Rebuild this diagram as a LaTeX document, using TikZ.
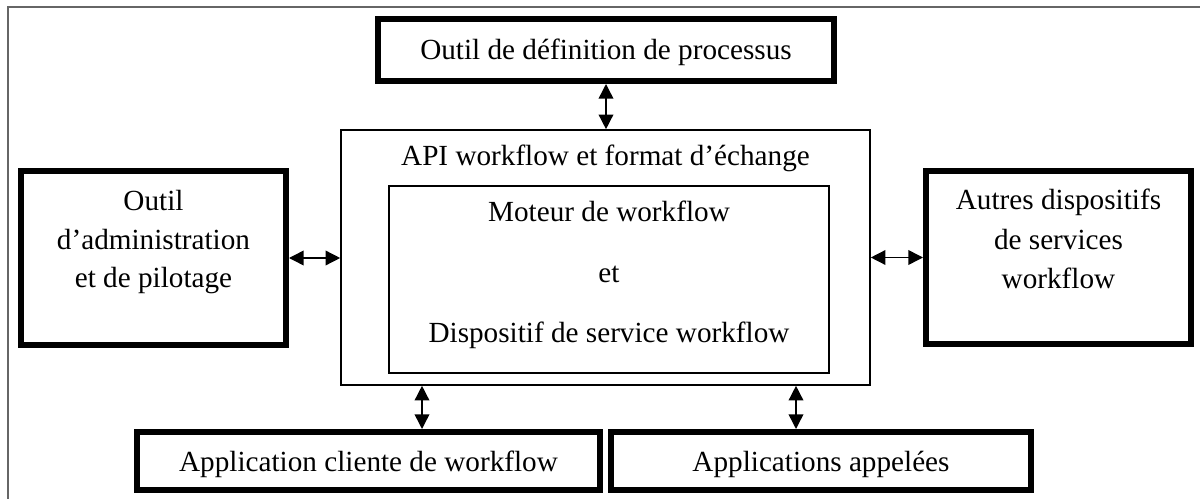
\documentclass[tikz,border=0pt]{standalone}
\usepackage{fontspec}
\setmainfont{Liberation Serif}
\usetikzlibrary{arrows.meta}

\tikzset{
  heavybox/.style={draw, line width=4.5pt, minimum width=#1, inner sep=0pt},
  lightbox/.style={draw, line width=1.2pt, inner sep=0pt},
  lbl/.style={anchor=base, inner sep=0pt, font=\fontsize{21.9}{26}\selectfont},
  biarrow/.style={{Triangle[length=11pt,width=11pt]}-{Triangle[length=11pt,width=11pt]}, line width=1.1pt},
}

\begin{document}
\begin{tikzpicture}[x=0.75pt, y=-0.75pt]
  \useasboundingbox (0,0) rectangle (1200,499);

  % page frame, running off the right and bottom edges
  \begin{scope}
    \clip (0,0) rectangle (1200,499);
    \draw[black!60, line width=0.8pt] (8,7) rectangle (1210,510);
  \end{scope}

  % boxes
  \node[heavybox=456*0.75pt, minimum height=62*0.75pt] (defn) at (606,50) {};
  \node[heavybox=265*0.75pt, minimum height=174*0.75pt] (admin) at (153.5,258) {};
  \node[heavybox=265*0.75pt, minimum height=173*0.75pt] (autres) at (1058.5,257.5) {};
  \node[heavybox=463*0.75pt, minimum height=58*0.75pt] (client) at (368.5,461) {};
  \node[heavybox=420*0.75pt, minimum height=58*0.75pt] (appel) at (821,461) {};
  \node[lightbox, minimum width=529*0.75pt, minimum height=255*0.75pt] (api) at (605.5,257.5) {};
  \node[lightbox, minimum width=440*0.75pt, minimum height=187*0.75pt] (moteur) at (609,279.5) {};

  % labels
  \node[lbl] (tdefn) at (606,60) {Outil de définition de processus};
  \node[lbl] (tadm1) at (153.5,211) {Outil};
  \node[lbl] (tadm2) at (153.5,249) {d’administration};
  \node[lbl] (tadm3) at (153.5,287) {et de pilotage};
  \node[lbl] (taut1) at (1058.5,210) {Autres dispositifs};
  \node[lbl] (taut2) at (1058.5,249) {de services};
  \node[lbl] (taut3) at (1058.5,288) {workflow};
  \node[lbl] (tapi) at (605.5,166) {API workflow et format d’échange};
  \node[lbl] (tmot1) at (609,222) {Moteur de workflow};
  \node[lbl] (tmot2) at (609,282) {et};
  \node[lbl] (tmot3) at (609,342) {Dispositif de service workflow};
  \node[lbl] (tcli) at (368.5,471) {Application cliente de workflow};
  \node[lbl] (tapp) at (821,471) {Applications appelées};

  % connectors
  \coordinate (xc) at (422,0);
  \coordinate (xa) at (796,0);
  \draw[biarrow] (defn.south) -- (defn.south |- api.north);
  \draw[biarrow] (admin.east) -- (admin.east -| api.west);
  \draw[biarrow] (api.east) -- (api.east -| autres.west);
  \draw[biarrow] (api.south -| xc) -- (client.north -| xc);
  \draw[biarrow] (api.south -| xa) -- (appel.north -| xa);
\end{tikzpicture}
\end{document}
